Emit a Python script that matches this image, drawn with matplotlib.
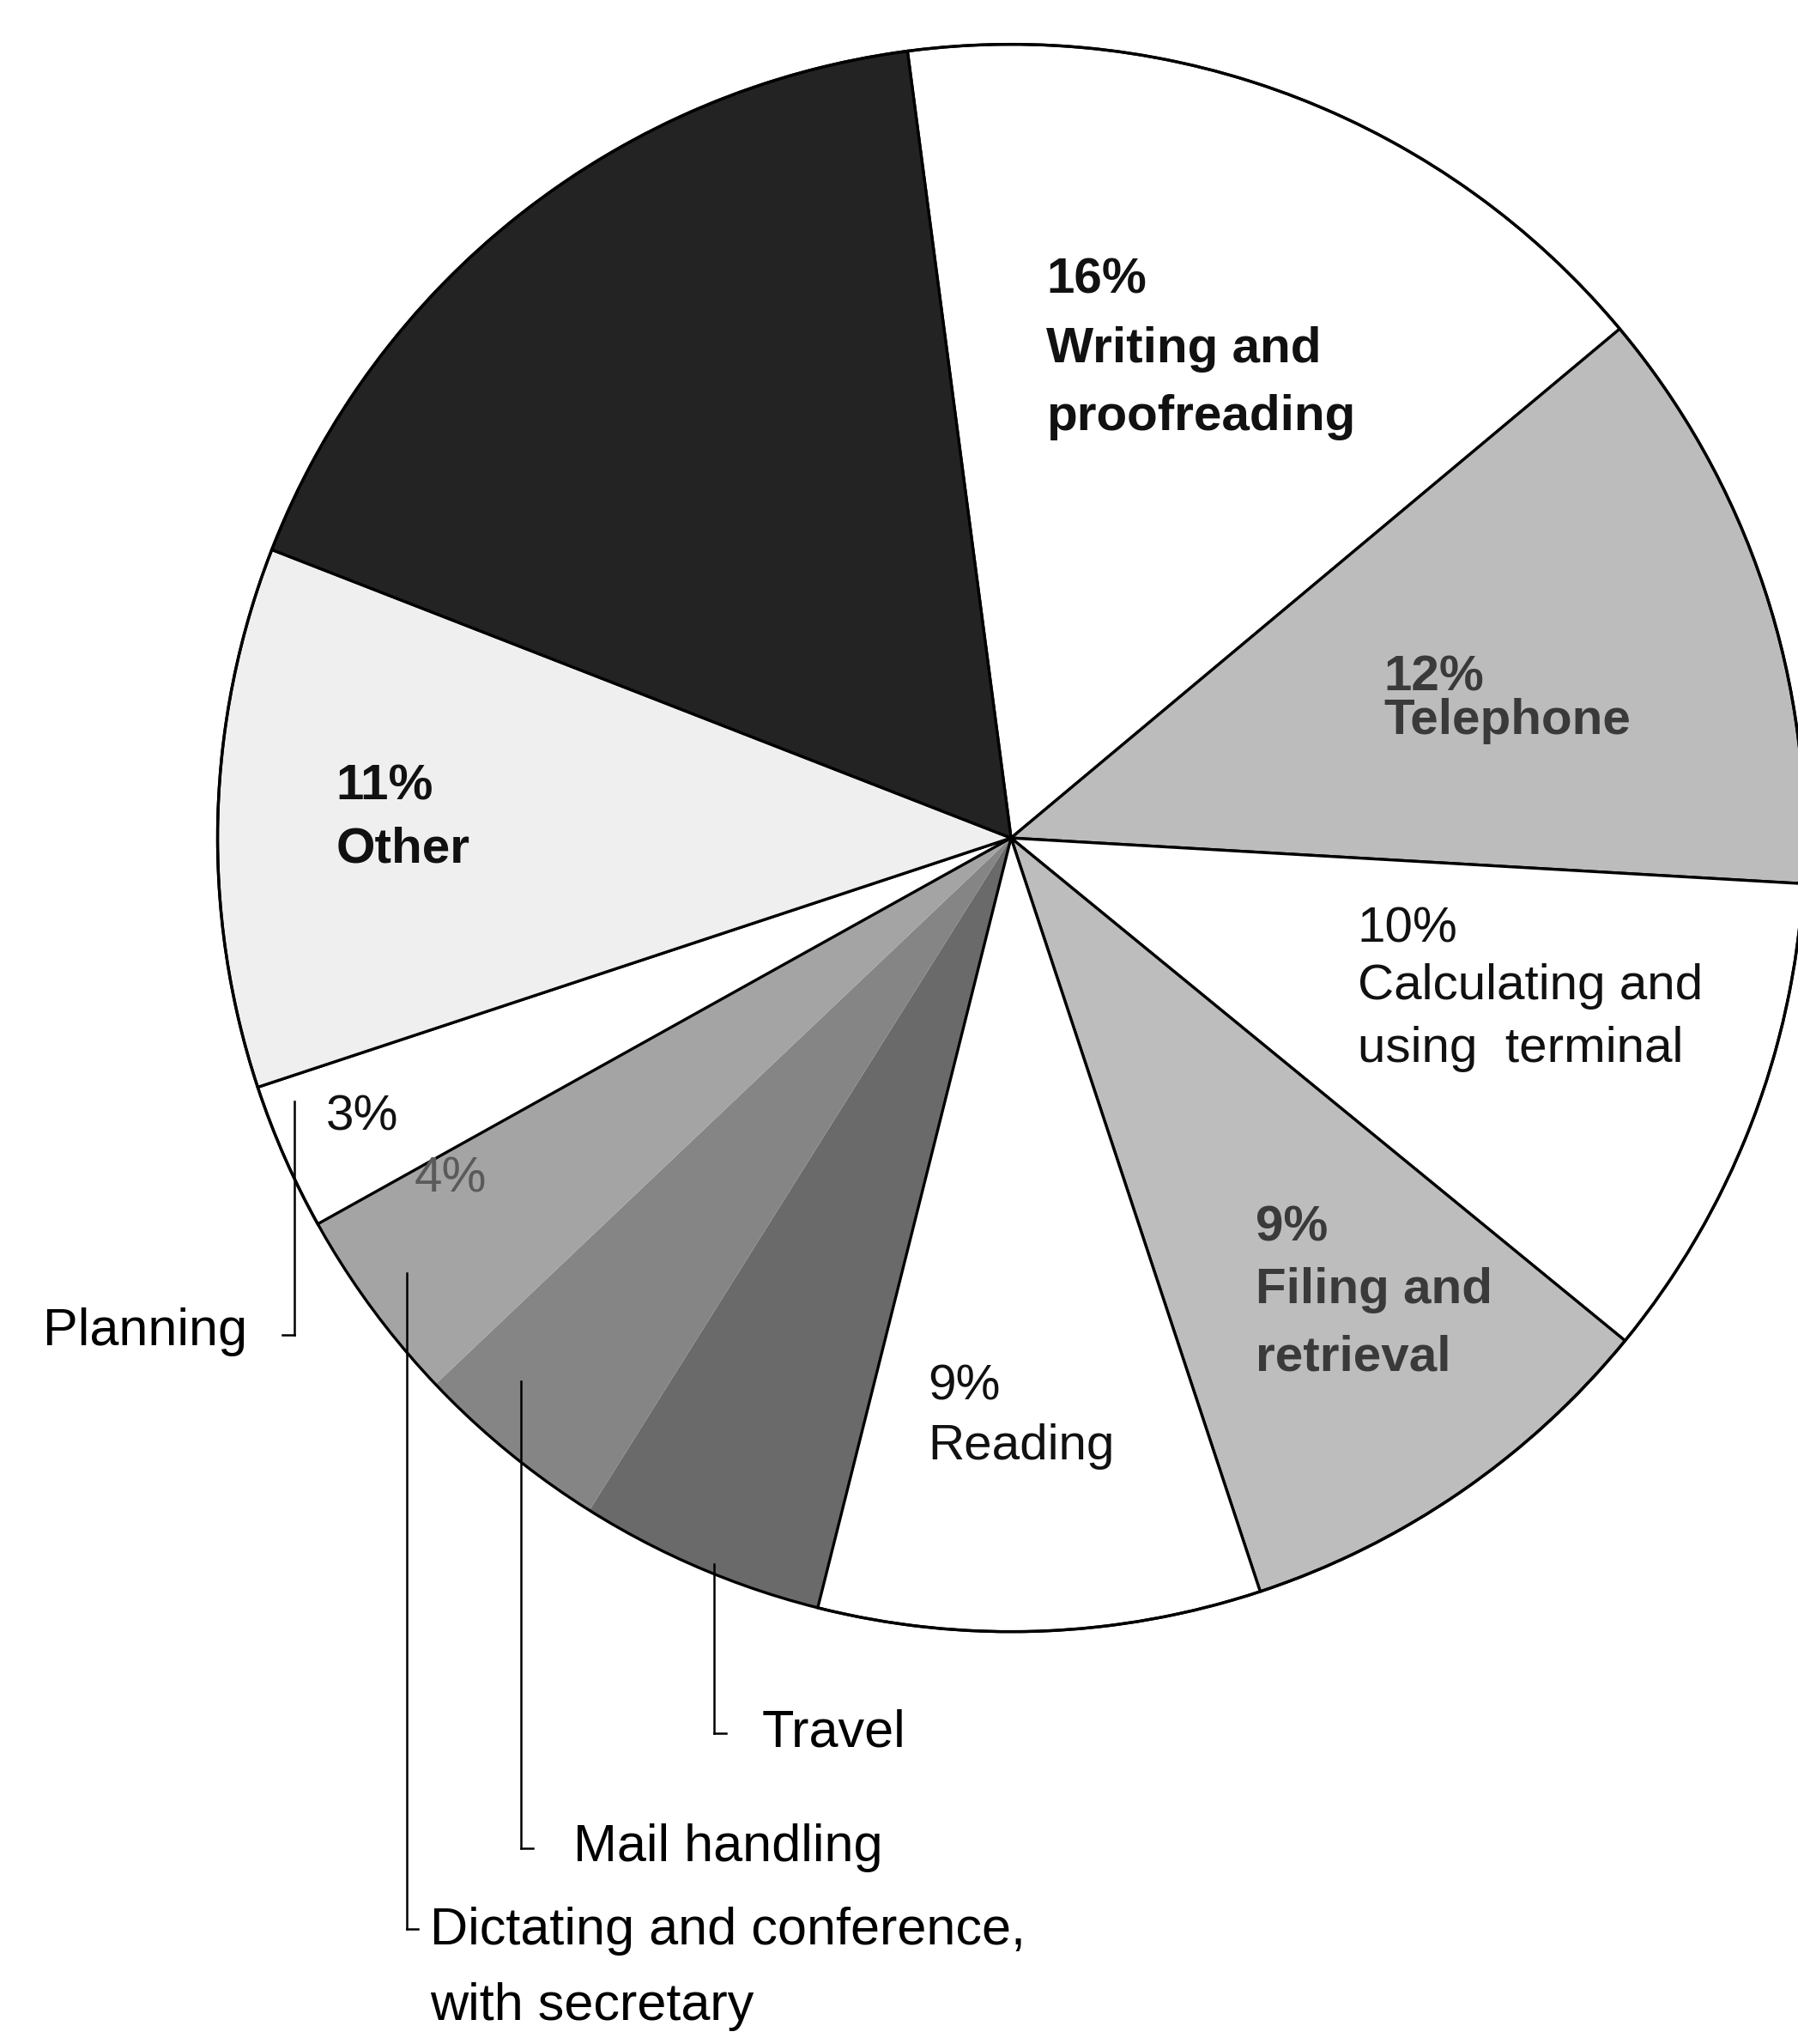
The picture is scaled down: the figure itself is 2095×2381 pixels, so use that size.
import matplotlib
matplotlib.use("Agg")
import matplotlib.pyplot as plt
from matplotlib import font_manager
from matplotlib.patches import Circle

# Pie slices, clockwise from the top (Writing first)
activities = ['Writing and proofreading', 'Telephone', 'Calculating and using terminal',
              'Filing and retrieval', 'Reading', 'Travel', 'Mail handling',
              'Dictating and conference with secretary', 'Planning', 'Other', 'Meetings']
shares = [16, 12, 10, 9, 9, 5, 4, 4, 3, 11, 17]
shades = ['#ffffff', '#bcbcbc', '#ffffff', '#bdbdbd', '#ffffff', '#6a6a6a',
          '#858585', '#a4a4a4', '#ffffff', '#efefef', '#232323']
# slices whose shared borders are only a change of tone (no drawn line)
no_edge = ['Travel', 'Mail handling', 'Dictating and conference with secretary']

# Text drawn inside the pie
inside_text = [['16%', 'Writing and', 'proofreading'],
               ['12%', 'Telephone'],
               ['10%', 'Calculating and', 'using  terminal'],
               ['9%', 'Filing and', 'retrieval'],
               ['9%', 'Reading'],
               ['11%', 'Other'],
               ['3%'],
               ['4%']]
# Labels drawn outside, with leader lines
outside_text = ['Planning', 'Dictating and conference,', 'with secretary', 'Mail handling', 'Travel']

W, H = 2095, 2381
S = W / 1380


def P(x, y):
    return x * S, H - y * S


names = {f.name for f in font_manager.fontManager.ttflist}
FONT = 'Liberation Sans' if 'Liberation Sans' in names else 'DejaVu Sans'

fig = plt.figure(figsize=(W / 100, H / 100), dpi=100)
ax = fig.add_axes([0, 0, 1, 1])

cx, cy = P(776, 643)
R = 609 * S
wedges, _ = ax.pie(shares, colors=shades, startangle=97.5, counterclock=False,
                   center=(cx, cy), radius=R,
                   wedgeprops=dict(edgecolor='black', linewidth=2.4))
for w, name in zip(wedges, activities):
    if name in no_edge:
        w.set_edgecolor('none')
        w.set_zorder(0.5)
ax.add_patch(Circle((cx, cy), R, fill=False, edgecolor='black', linewidth=2.4, zorder=3))
ax.set_xlim(0, W)
ax.set_ylim(0, H)
ax.set_aspect('equal')
ax.axis('off')

# x of block, y of each line, weight, colour
layout = [(803, [215, 268, 320], 'bold', '#111111'),
          (1062, [520, 553], 'bold', '#3a3a3a'),
          (1042, [713, 757, 805], 'normal', '#111111'),
          (964, [942, 990, 1042], 'bold', '#3a3a3a'),
          (712, [1064, 1110], 'normal', '#111111'),
          (258, [604, 652], 'bold', '#111111'),
          (250, [857], 'normal', '#111111'),
          (318, [905], 'normal', '#5a5a5a')]
for lines, (x, ys, wt, col) in zip(inside_text, layout):
    for txt, y in zip(lines, ys):
        ax.text(*P(x, y), txt, fontsize=42, fontweight=wt, color=col,
                family=FONT, ha='left', va='center', zorder=5)

# leader lines: x, top y, bottom y, hook direction
leaders = [(226, 845, 1024, -1), (312, 977, 1480, 1), (400, 1060, 1418, 1), (548, 1200, 1330, 1)]
for x, y0, y1, d in leaders:
    ax.plot(*zip(P(x, y0), P(x, y1)), color='black', lw=1.8, zorder=4)
    ax.plot(*zip(P(x, y1), P(x + 9 * d, y1)), color='black', lw=1.8, zorder=4)

ax.text(*P(190, 1022), outside_text[0], fontsize=44, family=FONT, ha='right', va='center')
ax.text(*P(330, 1482), outside_text[1], fontsize=44, family=FONT, ha='left', va='center')
ax.text(*P(330, 1540), outside_text[2], fontsize=44, family=FONT, ha='left', va='center')
ax.text(*P(440, 1418), outside_text[3], fontsize=44, family=FONT, ha='left', va='center')
ax.text(*P(585, 1330), outside_text[4], fontsize=44, family=FONT, ha='left', va='center')

fig.savefig('out.png', dpi=100, facecolor='white')
